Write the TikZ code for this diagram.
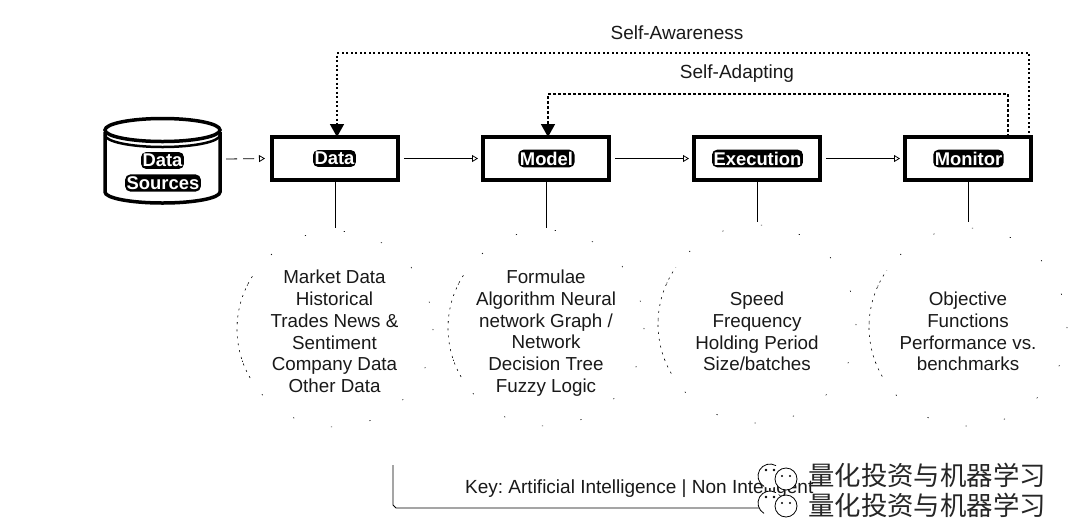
\documentclass[tikz,border=0pt]{standalone}
\usepackage{fontspec}
\setmainfont{Liberation Sans}
\newfontfamily\cjkwm{Noto Sans CJK SC}
\usetikzlibrary{arrows.meta,calc}
\tikzset{
  stagebox/.style={draw=black,line width=4pt,fill=white,minimum width=126pt,minimum height=43pt,inner sep=0pt},
  blob/.style={fill=black,text=white,rounded corners=5pt,inner xsep=1.5pt,inner ysep=2pt,font=\fontsize{18.4}{20}\selectfont\bfseries},
  bodytext/.style={align=center,font=\fontsize{18.8}{21.7}\selectfont,text=black!90},
  caption/.style={font=\frenchspacing\fontsize{19}{22}\selectfont,text=black!90},
  flow/.style={line width=0.8pt,-{Triangle[open,length=6pt,width=7pt,line width=0.8pt]}},
  stem/.style={line width=0.9pt},
  loop/.style={line width=1.5pt,dash pattern=on 3pt off 3pt,-{Triangle[length=13pt,width=14pt,fill=black]}},
  ghost/.style={line width=0.6pt,dash pattern=on 1.2pt off 38pt},
  ghostarc/.style={line width=0.6pt,dash pattern=on 2pt off 5pt},
  wm/.style={font=\cjkwm\fontsize{26.4}{28}\selectfont,inner sep=0pt,anchor=west,text=black!85},
  wmline/.style={line width=0.8pt},
}
\newcommand{\ghostcircle}[3]{%
  \draw[ghost] (#1,#2) circle[radius=#3];
  \draw[ghostarc] ($(#1,#2)+(150:#3)$) arc[start angle=150,end angle=215,radius=#3];
}
\newcommand{\wmlogo}[2]{%
  \fill[white] (#1+13,#2) circle[radius=12];
  \draw[wmline] ($(#1+13,#2)+(300:12)$) arc[start angle=300,end angle=120,radius=12];
  \fill (#1+9,#2-6) circle[radius=1.4];
  \fill (#1+17,#2-6) circle[radius=1.4];
  \draw[wmline,fill=white] (#1+29,#2+3) circle[radius=11];
  \fill (#1+25,#2+0) circle[radius=1.2];
  \fill (#1+33,#2+0) circle[radius=1.2];
}
\begin{document}
\begin{tikzpicture}[x=1pt,y=-1pt]
\useasboundingbox (0,0) rectangle (1080,523);
\fill[white] (0,0) rectangle (1080,523);

% ghost circles
\ghostcircle{335}{329}{98}
\ghostcircle{546}{328}{98}
\ghostcircle{757}{324}{99}
\ghostcircle{968}{327}{99}

% cylinder
\draw[line width=3.5pt,fill=white] (105,132) -- (105,192) arc[start angle=180,end angle=0,x radius=57.5,y radius=11] -- (220,132);
\draw[line width=3.5pt,fill=white] (162.5,130) ellipse[x radius=57.5,y radius=11.5];
\draw[line width=2.5pt] (105,135) arc[start angle=180,end angle=0,x radius=57.5,y radius=12];
\node[minimum width=128pt,minimum height=70pt,inner sep=0pt] (src) at (162,159) {};

% stage boxes
\node[stagebox] (data) at (335,158.5) {};
\node[stagebox] (model) at (546,158.5) {};
\node[stagebox] (exec) at (757,158.5) {};
\node[stagebox] (mon) at (968,158.5) {};

\node[blob] (srcA) at (162.5,160.5) {Data};
\node[blob] (srcB) at (163,183) {Sources};
\node[blob] at (334.5,158.5) {Data};
\node[blob] at (546.5,158.5) {Model};
\node[blob] at (757.5,158.5) {Execution};
\node[blob] at (968.5,158.5) {Monitor};

% horizontal flows
\draw[flow,dash pattern=on 11pt off 6pt] (src.east) -- ([xshift=-5pt]data.west);
\draw[flow] ([xshift=4pt]data.east) -- ([xshift=-3pt]model.west);
\draw[flow] ([xshift=4pt]model.east) -- ([xshift=-3pt]exec.west);
\draw[flow] ([xshift=4pt]exec.east) -- ([xshift=-3pt]mon.west);

% feedback loops
\coordinate (awarecorner) at (337,53);
\coordinate (adaptcorner) at (548,94);
\draw[loop,dash pattern=on 2pt off 2.5pt] ([xshift=-4pt,yshift=-2pt]mon.north east) |- (awarecorner) -- ([xshift=2pt,yshift=-2pt]data.north);
\draw[loop,dash pattern=on 3pt off 2pt] ([xshift=40pt,yshift=-2pt]mon.north) |- (adaptcorner) -- ([xshift=2pt,yshift=-2pt]model.north);
\node[caption] (lblaware) at (677,32.5) {Self-Awareness};
\node[caption] (lbladapt) at (737,73.5) {Self-Adapting};

% stems
\coordinate (c1) at (335,228);
\coordinate (c2) at (546,228);
\coordinate (c3) at (757,222);
\coordinate (c4) at (968,222);
\draw[stem] ([yshift=4pt]data.south) -- (c1);
\draw[stem] ([yshift=4pt]model.south) -- (c2);
\draw[stem] ([yshift=4pt]exec.south) -- (c3);
\draw[stem] ([yshift=4pt]mon.south) -- (c4);

% body texts
\node[bodytext] (t1) at (334.5,331.5) {Market Data\\Historical\\Trades News \&\\Sentiment\\Company Data\\Other Data};
\node[bodytext] (t2) at (546,333) {Formulae\\Algorithm Neural\\network Graph /\\Network\\Decision Tree\\Fuzzy Logic};
\node[bodytext] (t3) at (757,331.5) {Speed\\Frequency\\Holding Period\\Size/batches};
\node[bodytext] (t4) at (968,331.5) {Objective\\Functions\\Performance vs.\\benchmarks};

% key
\draw[line width=0.8pt] (393,465) -- (393,505) -- (396,508) -- (765,508);
\node[caption,anchor=west,inner sep=0pt] (key) at (465,489) {Key: Artificial Intelligence | Non Intelligent};

% watermark
\wmlogo{757}{476}
\wmlogo{757}{503}
\node[wm] (wm1) at (808,475) {量化投资与机器学习};
\node[wm] (wm2) at (808,505) {量化投资与机器学习};
\end{tikzpicture}
\end{document}
